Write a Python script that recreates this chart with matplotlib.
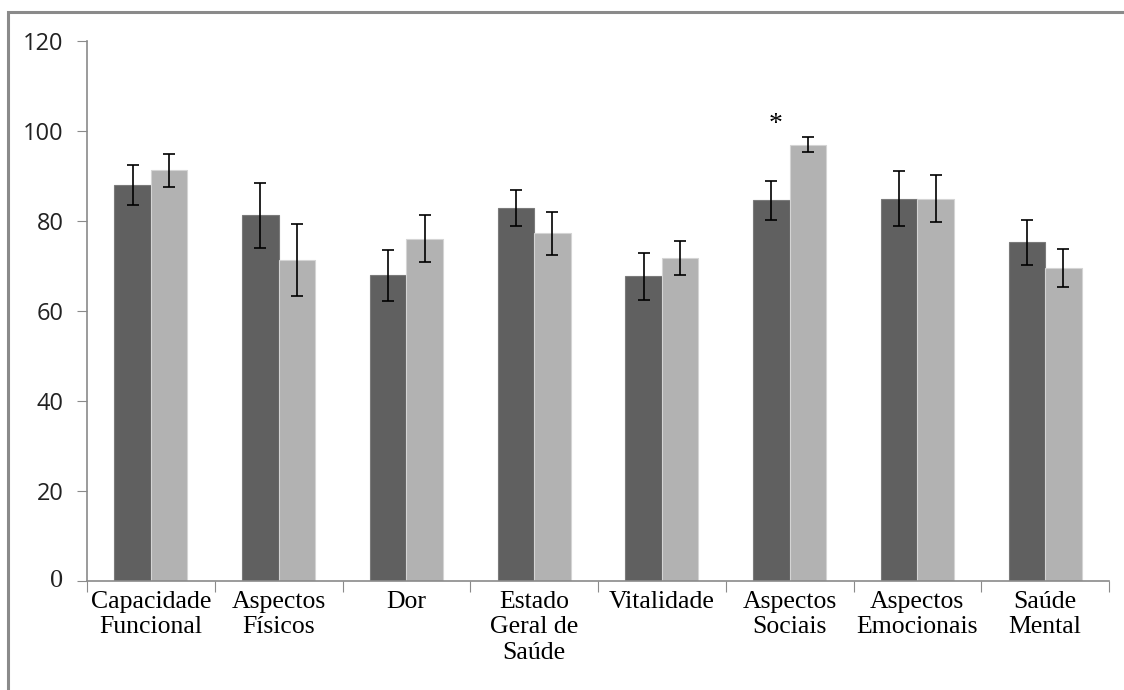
import numpy as np
import matplotlib
matplotlib.use("Agg")
import matplotlib.pyplot as plt
from matplotlib.patches import Rectangle

categories = ["Capacidade\nFuncional", "Aspectos\nFísicos", "Dor", "Estado\nGeral de\nSaúde",
              "Vitalidade", "Aspectos\nSociais", "Aspectos\nEmocionais", "Saúde\nMental"]
group1 = [88.0, 81.3, 67.9, 83.0, 67.7, 84.6, 85.0, 75.3]
group1_err = [4.4, 7.2, 5.6, 4.0, 5.2, 4.3, 6.2, 5.0]
group2 = [91.3, 71.3, 76.1, 77.3, 71.7, 97.0, 85.0, 69.6]
group2_err = [3.7, 8.0, 5.3, 4.8, 3.8, 1.6, 5.2, 4.2]
yticks = [0, 20, 40, 60, 80, 100, 120]
star_cat = 5
star_y = 101.5

fig = plt.figure(figsize=(11.24, 6.9), dpi=100)
ax = fig.add_axes([87 / 1124, 1 - 581 / 690, (1109 - 87) / 1124, (581 - 41) / 690])

# outer frame (only top and left edges show in the picture)
fig.patches.append(Rectangle((8 / 1124, -0.5), 2.0, 0.5 + (690 - 12) / 690, transform=fig.transFigure,
                             fill=False, edgecolor="#8a8a8a", lw=2.2))

x = np.arange(len(categories))
w = 0.285
ax.bar(x - w / 2, group1, w, color="#606060", edgecolor="#7a7a7a", lw=0.8, zorder=2)
ax.bar(x + w / 2, group2, w, color="#b2b2b2", edgecolor="#d4d4d4", lw=0.8, zorder=2)
ax.errorbar(x - w / 2, group1, yerr=group1_err, fmt="none", ecolor="black", elinewidth=1.2,
            capsize=4, capthick=1.2, zorder=3)
ax.errorbar(x + w / 2, group2, yerr=group2_err, fmt="none", ecolor="black", elinewidth=1.2,
            capsize=4, capthick=1.2, zorder=3)
ax.text(star_cat - 0.107, star_y, "*", ha="center", va="center", fontsize=20, family="Liberation Serif")

ax.set_xlim(-0.5, len(categories) - 0.5)
ax.set_ylim(0, 120)
ax.set_yticks(yticks)
# the "0" label is in a serif face in the original, so it is drawn separately
ax.set_yticklabels([""] + [str(v) for v in yticks[1:]], family="Open Sans", fontsize=17, color="#222222")
ax.annotate(str(yticks[0]), xy=(0, yticks[0]), xycoords=("axes fraction", "data"),
            xytext=(-17, 0), textcoords="offset points", ha="right", va="center",
            family="Liberation Serif", fontsize=19, color="#222222")

ax.set_xticks(np.arange(len(categories) + 1) - 0.5)
ax.set_xticklabels([])
ax.set_xticks(x, minor=True)
ax.set_xticklabels(categories, minor=True, family="Liberation Serif", fontsize=18.5, linespacing=1.2)
ax.tick_params(axis="x", which="minor", length=0, pad=7)
ax.tick_params(axis="x", which="major", length=8, color="#8a8a8a", direction="out")
ax.tick_params(axis="y", length=7, color="#8a8a8a", pad=10)

for s in ["top", "right"]:
    ax.spines[s].set_visible(False)
for s in ["left", "bottom"]:
    ax.spines[s].set_color("#8a8a8a")
    ax.spines[s].set_linewidth(1.2)

fig.savefig("out.png", dpi=100)
